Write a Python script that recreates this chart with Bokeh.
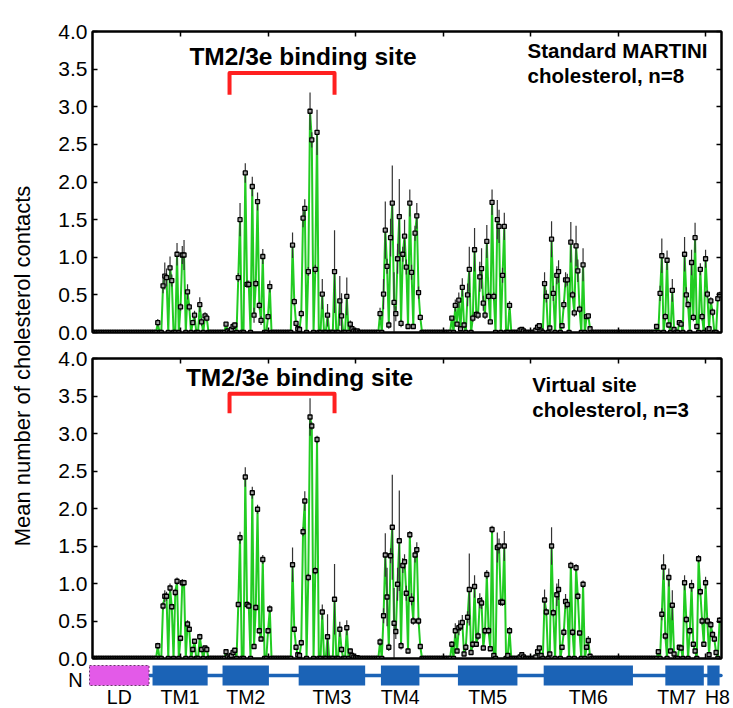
import numpy as np
from bokeh.plotting import figure
from bokeh.layouts import row, column
from bokeh.models import ColumnDataSource, Range1d, LinearAxis, FixedTicker, PrintfTickFormatter
from bokeh.core.properties import value
from bokeh.embed import file_html
from bokeh.resources import INLINE

FONT = "Liberation Sans"
GREEN = "#22cc22"
BLUE = "#1b63b6"
RED = "#ff2020"

# Residue axis
N_RES = 359
residues = np.arange(N_RES)
x_ticks = [50, 100, 150, 200, 250, 300, 350]
y_ticks = [0.0, 0.5, 1.0, 1.5, 2.0, 2.5, 3.0, 3.5, 4.0]

# First residue of each transmembrane contact segment (TM1 .. TM7/H8)
helix_starts = [36, 74, 112, 162, 203, 252, 320]

# Standard MARTINI cholesterol, n=8: mean contacts and error per residue
std_tm1 = [0, .13, 0, 0, .62, .75, .73, 0, .86, .69, 0, 0, 1.04, 0, .34, 1.03, 1.03, 0, .54, .34,
           0, .13, .23, 0, 0, .37, .14, 0, .22, .19, 0]
std_tm1_err = [0, .05, 0, 0, .1, .18, .12, 0, .15, .08, 0, 0, .15, 0, .05, .12, .2, 0, .1, .05,
               0, .03, .06, 0, 0, .1, .05, 0, .05, .04, 0]
std_tm2 = [0, 0, .11, .02, 0, .04, .08, .10, 0, .73, 1.50, 0, 0, 2.12, .64, .64, 0, 1.94, .23, .65,
           1.74, .36, .16, 1.01, 0, 0, .21, .61, 0]
std_tm2_err = [0, 0, .03, 0, 0, .02, .03, .03, 0, .06, .22, 0, 0, .13, .05, .05, 0, .13, .1, .05,
               .12, .05, .06, .1, 0, 0, .04, .08, 0]
std_tm3 = [0, 0, 1.16, .41, .12, .05, .04, .25, 1.52, 1.65, 0, .81, 2.94, 2.56, 0, .84, 2.66, 0, 0, .51,
           0, 0, .23, 0, 0, 0, .81, 0, 0, .42, .22, 0, 0, .48, 0, .11, .05, .02, .01, .02, 0]
std_tm3_err = [0, 0, .17, .05, .03, .02, .02, .05, .12, .12, 0, .06, .25, .1, 0, .06, .3, 0, 0, .2,
               0, 0, .15, 0, 0, 0, .55, 0, 0, .33, .3, 0, 0, .25, 0, .05, .03, 0, 0, 0, 0]
std_tm4 = [0, 0, .25, 0, .51, 1.36, .88, .1, 1.26, 1.72, .40, .25, .98, 1.54, .12, 1.04, 1.28, .87, .08, 1.72,
           .80, .08, 1.32, 1.55, .53, .2, 0, 0]
std_tm4_err = [0, 0, .08, 0, .2, .38, .1, .05, .25, .5, .4, .1, .2, .5, .05, .1, .22, .1, .03, .18,
               .1, .03, .1, .17, .08, .04, 0, 0]
std_tm5 = [0, 0, .19, 0, .36, .11, .43, .05, .6, .1, 0, .5, .84, 0, .19, 1.1, .24, .23, .74, .85,
           .39, .23, 1.21, .48, .14, 1.73, .48, 0, 1.5, 1.41, 0, .76, 1.41, 0, 0, .36, 0, 0, 0, 0,
           0, .03, .04, .02, 0]
std_tm5_err = [0, 0, .03, 0, .08, .03, .1, 0, .12, .03, 0, .15, .3, 0, .05, .29, .05, .05, .2, .27,
               .1, .05, .22, .05, .03, .17, .05, 0, .26, .22, 0, .1, .18, 0, 0, .06, 0, 0, 0, 0,
               0, 0, 0, 0, 0]
std_tm6 = [0, .03, .07, .09, .02, 0, .65, .48, 0, .06, 1.24, .52, 0, .76, .81, 0, .09, .37, .70, .70,
           0, 1.2, .5, .26, 1.15, .82, .31, 0, .9, 0, .21, .22, .05, 0]
std_tm6_err = [0, 0, .02, .03, 0, 0, .15, .08, 0, .02, .24, .1, 0, .12, .15, 0, .02, .06, .1, .08,
               0, .27, .05, .05, .27, .15, .05, 0, .22, 0, .03, .03, 0, 0]
std_tm7 = [0, 0, .08, 0, .52, 1.02, 0, .21, .96, .1, 0, .56, .04, 0, 0, .13, .11, 0, 1.04, .5,
           .37, 0, .93, .2, 1.26, .08, 0, .84, .21, 0, .98, .51, .05, .42, .27, 0, 0, .45, .5]
std_tm7_err = [0, 0, .03, 0, .1, .23, 0, .05, .13, .03, 0, .15, 0, 0, 0, .03, .03, 0, .23, .1,
               .05, 0, .17, .05, .2, .02, 0, .08, .05, 0, .12, .05, 0, .05, .05, 0, 0, .04, .04]

# Virtual site cholesterol, n=3: mean contacts and error per residue
vs_tm1 = [0, .17, 0, 0, .70, .83, .83, 0, .94, .69, 0, .88, 1.03, 0, .27, 1.01, 1.01, 0, .46, .39,
          0, .12, .23, 0, 0, .29, .12, 0, .14, .12, 0]
vs_tm1_err = [0, .04, 0, 0, .05, .08, .06, 0, .06, .04, 0, .05, .05, 0, .04, .05, .04, 0, .05, .04,
              0, .02, .03, 0, 0, .04, .02, 0, .03, .02, 0]
vs_tm2 = [0, 0, .09, .02, 0, .04, .08, .11, 0, .72, 1.61, 0, 0, 2.42, .72, .70, 0, 2.21, .16, .68,
          1.99, .37, .26, 1.32, 0, 0, .37, .66, 0]
vs_tm2_err = [0, 0, .03, 0, 0, .02, .03, .03, 0, .03, .08, 0, 0, .13, .04, .04, 0, .08, .03, .04,
              .06, .04, .03, .06, 0, 0, .04, .05, 0]
vs_tm3 = [0, 0, 1.25, .39, .15, .05, .04, .21, 1.69, 2.10, 0, 1.08, 3.22, 3.10, 0, 1.17, 2.92, 0, 0, .62,
          0, 0, .29, 0, 0, 0, .79, 0, 0, .39, .12, 0, 0, .41, 0, .10, .04, .02, .01, .01, 0]
vs_tm3_err = [0, 0, .23, .04, .03, .02, .02, .04, .06, .13, 0, .05, .25, .05, 0, .05, .05, 0, 0, .1,
              0, 0, .3, 0, 0, 0, .47, 0, 0, .1, .04, 0, 0, .1, 0, .03, 0, 0, 0, 0, 0]
vs_tm4 = [0, 0, .22, 0, .57, 1.38, .82, .15, 1.37, 1.75, .47, .36, .99, 1.57, .17, 1.24, 1.29, .87, .1, 1.65,
          .79, .5, 1.38, 1.45, .5, .16, 0, 0]
vs_tm4_err = [0, 0, .05, 0, .1, .29, .39, .05, .1, .7, .47, .1, .22, .67, .05, .1, .1, .1, .03, .05,
              .08, .05, .1, .1, .05, .03, 0, 0]
vs_tm5 = [0, 0, .19, 0, .37, .1, .41, .43, .48, .06, .15, .55, .92, .08, .19, .96, .19, .3, .77, .74,
          .14, .37, 1.12, .37, .13, 1.72, .04, 0, 1.48, 1.5, .75, .75, 1.5, 0, .04, .37, 0, 0, 0, 0,
          0, .02, .05, .02, 0]
vs_tm5_err = [0, 0, .04, 0, .1, .02, .1, .06, .1, .02, .05, .08, .48, .02, .05, .15, .03, .05, .1, .08,
              .03, .05, .06, .05, .03, .05, 0, 0, .2, .1, .05, .05, .2, 0, 0, .05, 0, 0, 0, 0,
              0, 0, 0, 0, 0]
vs_tm6 = [0, .02, .09, .14, .04, 0, .78, .62, 0, .06, 1.5, .61, 0, .85, .92, 0, .15, .35, .76, .72,
          0, 1.24, .35, 0, 1.21, .83, .34, 0, .99, 0, .15, .24, .03, 0]
vs_tm6_err = [0, 0, .03, .03, 0, 0, .14, .05, 0, .02, .25, .05, 0, .15, .14, 0, .03, .05, .1, .05,
              0, .05, .05, 0, .05, .05, .03, 0, .05, 0, .02, .06, 0, 0]
vs_tm7 = [0, 0, 0, .09, 0, .59, 1.22, .3, 0, 1.08, .1, .71, .06, 0, 0, .15, .14, 0, 1.01, .52,
          0, .37, .97, .19, .1, 0, 1.33, .89, .5, .19, 1.01, .5, .05, .45, .32, .26, .08, 0, .51]
vs_tm7_err = [0, 0, 0, .03, 0, .08, .17, .05, 0, .12, .02, .2, 0, 0, 0, .03, .03, 0, .1, .05,
              0, .05, .08, .03, 0, 0, .05, .05, .05, .03, .08, .05, 0, .05, .05, .04, 0, 0, .04]

# Receptor topology (residue ranges) drawn under the lower panel
domain_names = ["LD", "TM1", "TM2", "TM3", "TM4", "TM5", "TM6", "TM7", "H8"]
domain_start = [-2, 34, 74, 117.5, 164.5, 208.5, 257.5, 327, 351]
domain_end = [32, 65.5, 100.5, 155.5, 186.5, 242.5, 308.5, 349, 358]

# Residue range marked as the TM2/3e binding site
binding_site = [78, 138]


def profile(segments):
    out = np.zeros(N_RES)
    for start, seg in zip(helix_starts, segments):
        out[start:start + len(seg)] = seg
    return out


def style_axis(ax, labelled):
    ax.major_tick_in = 5
    ax.major_tick_out = 0
    ax.minor_tick_line_color = None
    ax.axis_line_width = 2
    ax.axis_line_color = "black"
    ax.major_tick_line_width = 1.5
    ax.major_tick_line_color = "black"
    if labelled:
        ax.formatter = PrintfTickFormatter(format="%.1f")
        ax.major_label_text_font = FONT
        ax.major_label_text_font_size = "21px"
        ax.major_label_text_color = "black"
        ax.major_label_standoff = 5
    else:
        # tick marks only on this side
        ax.major_label_text_color = None
        ax.major_label_text_font_size = "1px"
        ax.major_label_standoff = 0


def contact_panel(mean, err, height, border_top, border_bottom,
                  title_x, title_y, bracket_y, note_x, note_lines):
    p = figure(width=697, height=height,
               x_range=Range1d(-0.3, 359.1), y_range=Range1d(0, 4),
               output_backend="svg", toolbar_location=None,
               x_axis_location=None, y_axis_location=None,
               min_border_left=56, min_border_right=12,
               min_border_top=border_top, min_border_bottom=border_bottom)
    p.xgrid.visible = False
    p.ygrid.visible = False
    p.outline_line_color = "black"
    p.outline_line_width = 2
    p.background_fill_color = "white"
    p.border_fill_color = "white"

    for side, ticks, labelled in (("left", y_ticks, True), ("right", y_ticks, False),
                                  ("above", x_ticks, False), ("below", x_ticks, False)):
        ax = LinearAxis(ticker=FixedTicker(ticks=ticks))
        style_axis(ax, labelled)
        p.add_layout(ax, side)

    src = ColumnDataSource(dict(res=residues, mean=mean))
    p.line("res", "mean", source=src, line_color=GREEN, line_width=2)
    has_err = err > 0
    p.segment(x0=residues[has_err], y0=np.clip(mean - err, 0, None)[has_err],
              x1=residues[has_err], y1=(mean + err)[has_err],
              line_color="#333333", line_width=1.2)
    p.scatter("res", "mean", source=src, marker="square", size=4,
              fill_color="#a0a0a0", line_color="black", line_width=1.3)

    p.text(x=[title_x], y=[title_y], text=["TM2/3e binding site"],
           text_font=value(FONT), text_font_style="bold", text_font_size="24.5px",
           text_align="center", text_baseline="alphabetic", text_color="black")
    b0, b1 = binding_site
    p.line(x=[b0, b0, b1, b1], y=[bracket_y[0], bracket_y[1], bracket_y[1], bracket_y[0]],
           line_color=RED, line_width=4, line_join="round", line_cap="butt")
    for text, ty in note_lines:
        p.text(x=[note_x], y=[ty], text=[text],
               text_font=value(FONT), text_font_style="bold", text_font_size="20.5px",
               text_align="left", text_baseline="alphabetic", text_color="black")
    return p


def add_topology(p):
    # strip below the frame: y measured in pixels downward from 2 px under the frame
    p.extra_y_ranges = {"strip": Range1d(-2, -302)}
    kw = dict(y_range_name="strip", level="overlay")
    p.line(x=[domain_end[0], domain_end[-1] + 0.8], y=[15, 15], line_color=BLUE,
           line_width=3.5, line_cap="round", **kw)
    p.quad(left=domain_start[1:], right=domain_end[1:], top=5, bottom=25,
           fill_color=BLUE, line_color=None, **kw)
    p.quad(left=[domain_start[0]], right=[domain_end[0]], top=5, bottom=25,
           fill_color="#e35ae8", line_color="#6a3a6d", line_dash="2 2", line_width=1, **kw)
    label_shift = {"TM7": -4.5, "H8": 2.3}
    label_x = [(s + e) / 2 + label_shift.get(n, 0)
               for n, s, e in zip(domain_names, domain_start, domain_end)]
    p.text(x=label_x, y=[36] * len(label_x), text=domain_names,
           text_font=value(FONT), text_font_size="19.5px", text_align="center",
           text_baseline="alphabetic", text_color="black", **kw)
    p.text(x=[-10], y=[19], text=["N"], text_font=value(FONT), text_font_size="20px",
           text_align="center", text_baseline="alphabetic", text_color="black", **kw)


std_mean = profile([std_tm1, std_tm2, std_tm3, std_tm4, std_tm5, std_tm6, std_tm7])
std_err = profile([std_tm1_err, std_tm2_err, std_tm3_err, std_tm4_err, std_tm5_err, std_tm6_err, std_tm7_err])
vs_mean = profile([vs_tm1, vs_tm2, vs_tm3, vs_tm4, vs_tm5, vs_tm6, vs_tm7])
vs_err = profile([vs_tm1_err, vs_tm2_err, vs_tm3_err, vs_tm4_err, vs_tm5_err, vs_tm6_err, vs_tm7_err])

top = contact_panel(std_mean, std_err, 345, 31, 13,
                    title_x=120, title_y=3.674, bracket_y=(3.16, 3.45), note_x=248.3,
                    note_lines=[("Standard MARTINI", 3.747), ("cholesterol, n=8", 3.42)])
bottom = contact_panel(vs_mean, vs_err, 363, 13, 50,
                       title_x=118, title_y=3.75, bracket_y=(3.27, 3.53), note_x=251,
                       note_lines=[("Virtual site", 3.65), ("cholesterol, n=3", 3.325)])
add_topology(bottom)

# Shared y-axis title spanning both panels
ylab = figure(width=36, height=708, x_range=Range1d(0, 36), y_range=Range1d(0, 708),
              output_backend="svg", toolbar_location=None,
              x_axis_location=None, y_axis_location=None, min_border=0)
ylab.outline_line_color = None
ylab.xgrid.visible = False
ylab.ygrid.visible = False
ylab.text(x=[21.5], y=[708 - 365.5], text=["Mean number of cholesterol contacts"],
          angle=np.pi / 2, text_font=value(FONT), text_font_size="22px",
          text_align="center", text_baseline="alphabetic", text_color="black")

layout = row(ylab, column(top, bottom))

with open("out.html", "w") as f:
    f.write(file_html(layout, INLINE))
